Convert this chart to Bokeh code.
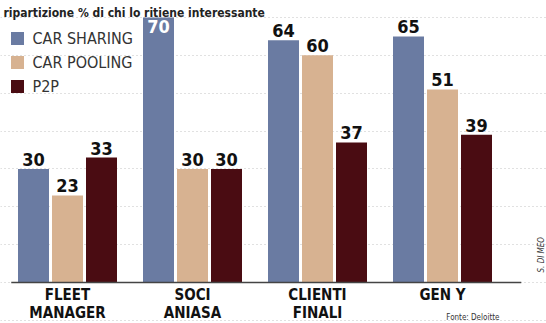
from bokeh.plotting import figure
from bokeh.models import Range1d, SingleIntervalTicker, ColumnDataSource, Label
from bokeh.core.properties import value
from bokeh.embed import file_html
from bokeh.resources import INLINE

categories = ["FLEET\nMANAGER", "SOCI\nANIASA", "CLIENTI\nFINALI", "GEN Y"]
series_names = ["CAR SHARING", "CAR POOLING", "P2P"]
car_sharing = [30, 70, 64, 65]
car_pooling = [23, 30, 60, 51]
p2p = [33, 30, 37, 39]
colors = ["#6a7ba2", "#d7b291", "#4a0c12"]

NARROW = "DejaVu Sans Condensed, Liberation Sans Narrow, sans-serif"

W, H = 546, 323
Y0, Y1 = -10.83, 74.48
PX_PER_UNIT = H / (Y1 - Y0)
p = figure(width=W, height=H, output_backend="svg", toolbar_location=None,
           x_range=Range1d(-0.536, 3.832), y_range=Range1d(Y0, Y1),
           min_border=0, min_border_left=0, min_border_right=0,
           min_border_top=0, min_border_bottom=0)
p.xaxis.visible = False
p.yaxis.visible = False
p.outline_line_color = None
p.xgrid.visible = False
p.ygrid.ticker = SingleIntervalTicker(interval=10)
p.ygrid.grid_line_color = "#a8a8a8"
p.ygrid.grid_line_dash = "1 3"
p.ygrid.grid_line_alpha = 0.7
p.background_fill_color = "white"
p.border_fill_color = "white"

offsets = [-0.272, 0.0, 0.272]
bar_w = 0.248
all_series = [car_sharing, car_pooling, p2p]
for k, (vals, col) in enumerate(zip(all_series, colors)):
    xs = [i + offsets[k] for i in range(len(categories))]
    src = ColumnDataSource(dict(x=xs, top=vals))
    p.vbar(x="x", top="top", bottom=0, width=bar_w, source=src,
           fill_color=col, line_color=None)
    inside = [v >= 70 for v in vals]
    out_src = ColumnDataSource(dict(x=[x for x, f in zip(xs, inside) if not f],
                                    y=[v for v, f in zip(vals, inside) if not f],
                                    t=[str(v) for v, f in zip(vals, inside) if not f]))
    in_src = ColumnDataSource(dict(x=[x for x, f in zip(xs, inside) if f],
                                   y=[v for v, f in zip(vals, inside) if f],
                                   t=[str(v) for v, f in zip(vals, inside) if f]))
    p.text(x="x", y="y", text="t", source=out_src, text_align="center",
           text_baseline="bottom", y_offset=-3, text_font=value(NARROW),
           text_font_style="bold", text_font_size="18px", text_color="#111111")
    p.text(x="x", y="y", text="t", source=in_src, text_align="center",
           text_baseline="top", y_offset=3, text_font=value(NARROW),
           text_font_style="bold", text_font_size="18px", text_color="#ffffff")

# baseline
p.segment(x0=[-0.45], y0=[0], x1=[3.63], y1=[0], line_color="#444444", line_width=1.6)

# category labels
p.text(x=list(range(len(categories))), y=[0] * len(categories), text=categories,
       text_align="center", text_baseline="top", y_offset=4,
       text_font=value(NARROW), text_font_style="bold", text_font_size="15px",
       text_color="#111111", text_line_height=1.0)

# legend
legend_rows_px = [38, 62, 86]
for name, col, yy in zip(series_names, colors, legend_rows_px):
    p.rect(x=[-0.536 + 17 / 125], y=[(282 - yy) / PX_PER_UNIT],
           width=13 / 125, height=13 / PX_PER_UNIT, fill_color=col, line_color=None)
    p.add_layout(Label(x=32, y=H - yy, x_units="screen", y_units="screen",
                       text=name, text_baseline="middle", text_font=NARROW,
                       text_font_size="16px", text_color="#333333"))

# heading at top
p.add_layout(Label(x=3, y=H - 12, x_units="screen", y_units="screen",
                   text="ripartizione % di chi lo ritiene interessante",
                   text_baseline="alphabetic", text_font=NARROW, text_font_style="bold",
                   text_font_size="12px", text_color="#222222"))

p.add_layout(Label(x=499, y=H - 317, x_units="screen", y_units="screen",
                   text="Fonte: Deloitte", text_align="right", text_baseline="middle",
                   text_font=NARROW, text_font_size="8px", text_color="#333333"))
p.add_layout(Label(x=541, y=H - 272, x_units="screen", y_units="screen",
                   text="S. DI MEO", angle=1.5708, text_baseline="middle",
                   text_font=NARROW, text_font_size="8px", text_font_style="italic",
                   text_color="#333333"))

open("out.html", "w").write(file_html(p, INLINE))
